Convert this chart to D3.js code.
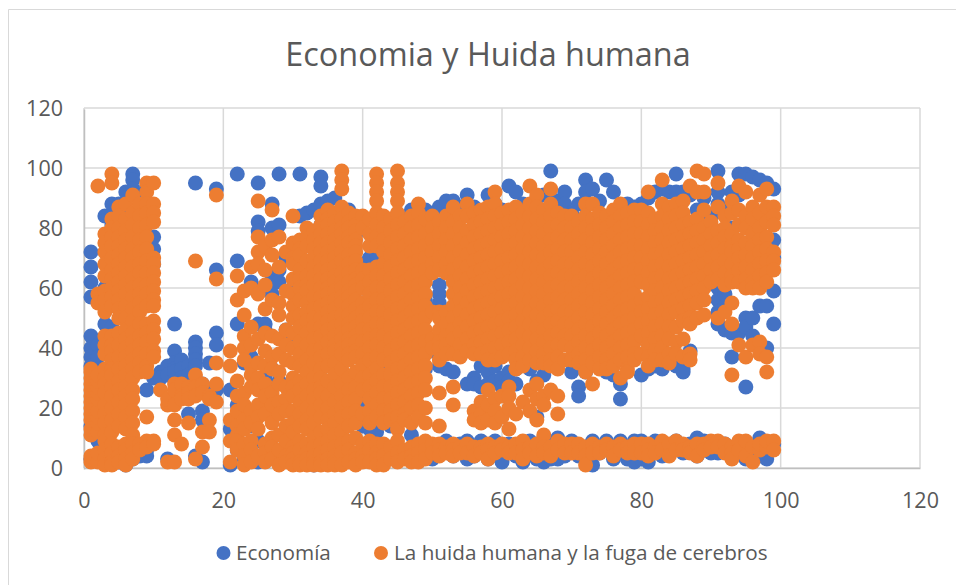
<!DOCTYPE html>
<html>
<head>
<meta charset="utf-8">
<script src="https://d3js.org/d3.v7.min.js"></script>
<style>
  body { margin: 0; background: #fff; }
  text { font-family: "Open Sans", sans-serif; fill: #595959; }
</style>
</head>
<body>
<div id="chart"></div>
<script>
const width = 956;
const height = 585;
const margin = { top: 108, left: 84, plotW: 836, plotH: 360 };

const chartTitle = "Economia y Huida humana";
const seriesNames = ["Economía", "La huida humana y la fuga de cerebros"];
const seriesColors = ["#4472c4", "#ed7d31"];
const xTicks = [0, 20, 40, 60, 80, 100, 120];
const yTicks = [0, 20, 40, 60, 80, 100, 120];

// [x, [y, y, ...]]
const economiaColumns = [
  [1, [72,67,62,57,44,40,37,34,14,3]], [2, [41,37,33,9]], [3, [84,60,48,6]], [4, [88,84,81,67,47,4]],
  [5, [88,72,63,2]], [6, [92,86,5,1]], [7, [98,96,93,78,3]], [8, [90,86,77,4]], [9, [94,26,6,4]], [10, [77,73,68,30]],
  [11, [32,30]], [12, [3,34,31]], [13, [48,39,35,33,32]], [14, [36,33,30]], [15, [34,31,18]],
  [16, [95,42,40,38,36,34,4]], [17, [19,16,2,28]], [18, [35,26]], [19, [93,66,45,41,26]],
  [21, [26,13,1]], [22, [98,69,48,21,6]], [23, [3,35]], [24, [62,37,14]], [25, [95,82,79,48,9,2]], [26, [60,48,46,30,5]],
  [27, [88,80,64,62,58,33]], [28, [98,81,66,62,29,2]], [29, [70,46,10]], [30, [43,60,8]],
  [31, [98,84,64,3]], [32, [85,28,62,4]], [33, [86,35,1]], [34, [97,94,88,81,30]], [35, [89,66,4]],
  [36, [90,53,33,2]], [37, [72,44,13]], [38, [86,70]], [39, [78,62]], [40, [68,55,22,14]],
  [41, [70,50,13,3]], [42, [71,66,46,12]], [43, [62,33]], [44, [14,61]], [46, [58,83,32]], [47, [86,40,11]], [48, [85,49]],
  [49, [86,56,33,4]], [50, [85,80,39,3]], [51, [87,61,58,55,34]], [52, [89,33,9]], [53, [89,32,4]], [54, [87,8]],
  [55, [91,28,9,3]], [56, [87,30,28,4]], [57, [84,34,27,9]], [58, [91,32,28,3]], [59, [88,34,29,9]], [60, [86,30,27,2]],
  [61, [94,32,29,8]], [62, [92,33,28,4]], [63, [88,36,2]], [64, [86,33,9]], [65, [90,29,17,3]], [66, [91,31,10,2]],
  [67, [99,90,3]], [68, [89,10,3]], [69, [92,88,4]], [70, [85,32,9]], [71, [88,27,24,4]], [72, [96,92,32,7]],
  [73, [93,9,1]], [74, [89,5]], [75, [96,32,9]], [76, [92,31,3]], [77, [85,28,23,9]], [78, [88,3,6]], [79, [87,9,2]],
  [80, [88,31,9,3]], [81, [90,33,2]], [82, [92,34,9]], [83, [93,33,8,4]], [84, [92,36,5]], [85, [98,92,34,9]], [86, [92,33,32,5]],
  [87, [91,39,8]], [88, [86,10,4]], [89, [90,9,6]], [90, [84,8,5]], [91, [99,92,88,60,56,52,48,5]], [92, [86,58,54,46,8]],
  [93, [92,80,37,45,4]], [94, [98,91,45,6]], [95, [98,50,47,27,3]], [96, [97,50,44,6]], [97, [96,54,10,4]],
  [98, [95,54,40,3,8]], [99, [93,76,70,59,48,8]]
];

const huidaColumns = [
  [1, [2,3,4,11,13,16,18,20,22,24,26,28,30,32,33]], [2, [94,58,55,2,5,12,15,17,19,23,25,27,29,31]],
  [3, [78,75,72,68,64,59,56,52,44,41,38,33,30,28,25,21,18,15,11,9,6,3,1]],
  [4, [98,95,83,80,77,74,70,66,63,60,57,54,44,41,39,36,33,31,27,24,20,16,12,8,5,2,1]],
  [5, [87,84,80,77,74,71,68,65,62,59,56,53,50,45,41,37,33,29,26,22,18,14,7,4,2]],
  [6, [88,83,79,76,73,70,67,64,61,58,54,50,46,43,40,37,34,31,27,24,21,17,13,8,6,3,1]],
  [7, [91,85,81,77,73,70,67,63,60,57,53,49,45,42,39,36,33,30,26,23,19,15,11,8,5,3]],
  [8, [88,84,80,76,72,68,65,61,58,55,52,48,44,41,38,35,32,8,6]],
  [9, [95,92,88,85,81,77,73,69,65,61,58,54,48,45,42,38,34,32,17,9,7]],
  [10, [95,88,85,82,70,68,65,62,59,56,54,49,46,43,39,37,9,8]],
  [11, [26]], [12, [21,2,23]], [13, [28,26,21,16,11,2]], [14, [28,24,8,23]], [15, [27,25,15,23]],
  [16, [69,31,27,24,3]], [17, [28,25,12,7]], [18, [24,16,12,23]], [19, [91,63,35,28,22]],
  [21, [39,34,16,9,2]], [22, [64,56,29,24,19,14,11,9,6]], [23, [59,51,44,40,36,25,21,16,13,8,4,1]],
  [24, [67,60,47,41,34,31,27,19,15,9,6,2]], [25, [89,77,72,68,58,43,35,30,26,21,17,13,4]],
  [26, [74,66,61,53,45,39,34,28,24,18,8,5,2]], [27, [86,76,71,56,44,37,33,25,21,15,10,7,3]],
  [28, [77,67,55,51,43,38,32,28,22,18,11,6,1]], [29, [72,59,46,41,36,27,23,19,14,9,4,2]],
  [30, [84,75,70,68,63,58,54,50,45,40,35,30,27,24,19,15,12,7,5,3,1]],
  [31, [76,73,71,66,63,60,56,51,47,42,38,34,29,26,22,18,14,9,6,2,1]],
  [32, [80,77,74,69,64,61,59,55,52,49,45,41,36,32,28,24,20,16,13,8,5,3,1]],
  [33, [79,76,73,70,67,64,61,57,53,50,47,43,39,35,30,26,23,19,15,10,7,4,2,1]],
  [34, [84,81,78,75,72,69,66,63,60,57,54,50,47,44,40,37,33,30,27,25,21,17,12,8,5,2,1]],
  [35, [86,83,81,78,75,72,69,66,63,60,58,55,52,49,46,42,38,34,29,24,20,16,13,9,6,3,1]],
  [36, [85,82,79,76,73,70,67,64,62,59,56,53,50,47,44,41,39,35,31,27,22,18,15,11,7,4,2,1]],
  [37, [99,96,93,87,83,80,78,75,72,69,65,62,60,57,55,51,48,45,43,40,38,33,28,24,20,17,12,8,5,1]],
  [38, [85,82,80,77,75,71,68,65,62,59,57,54,51,48,46,43,41,38,36,30,26,22,18,14,9,6,2]],
  [39, [84,81,79,76,74,72,69,66,63,61,59,56,53,50,47,44,42,39,37,32,27,23,19,15,10,5,3,1]],
  [40, [84,80,66,63,60,55,52,49,46,42,38,34,30,26,18,8,4,2]],
  [41, [83,78,74,66,62,58,54,50,46,43,40,36,31,27,23,19,15,9,6,2]],
  [42, [98,95,92,89,85,81,77,74,67,64,60,56,52,48,44,41,37,33,29,25,21,17,8,5,3,1]],
  [43, [84,80,76,72,68,64,60,56,52,48,44,40,36,31,27,23,19,15,8,4,1]],
  [44, [83,79,75,71,67,63,59,55,51,47,43,39,35,31,27,23,19,16,7,3]],
  [45, [99,95,92,89,85,81,77,73,69,65,61,57,53,49,45,41,37,33,29,25,21,17,13,9,5,2]],
  [46, [82,78,74,70,66,62,58,54,50,46,42,38,34,30,26,22,18,16,6,3]],
  [47, [84,80,76,72,68,64,60,56,52,48,44,40,36,32,28,24,20,15,7,4,2]],
  [48, [88,85,81,77,73,69,65,61,57,53,49,45,41,37,33,29,25,21,17,8,5,2]],
  [49, [83,78,74,70,66,62,58,54,50,46,42,38,34,30,26,20,15,9,6,3]],
  [50, [84,80,76,72,68,65,52,43,40,8,5]],
  [51, [82,78,74,70,66,52,50,46,42,40,36,25,14,8,6,4]],
  [52, [84,80,76,72,68,65,52,48,44,41,38,7,5]],
  [53, [87,82,78,74,70,66,62,58,54,50,46,43,38,27,21,8,6,4]],
  [54, [84,80,76,72,68,64,60,56,52,48,45,41,37,7,5]],
  [55, [88,84,79,75,71,67,63,59,55,51,47,43,39,8,5]],
  [56, [85,81,77,73,69,65,61,57,53,49,45,41,38,19,16,7,4]],
  [57, [86,82,78,74,70,66,62,58,54,50,46,42,38,22,18,15,7,5]],
  [58, [87,83,79,75,71,67,63,59,55,51,47,43,39,36,26,21,16,8,6,3]],
  [59, [92,88,84,80,76,72,68,64,60,56,52,48,44,40,36,23,19,15,7,5]],
  [60, [85,81,77,73,69,65,61,57,53,49,45,41,37,24,17,8,6]],
  [61, [86,82,78,74,70,66,62,58,54,50,46,42,38,27,24,20,13,7,5]],
  [62, [87,83,79,75,71,67,63,59,55,51,47,43,39,36,33,18,8,5]],
  [63, [85,81,77,73,69,65,61,57,53,49,45,41,37,34,22,9,6,3]],
  [64, [94,88,84,80,76,72,68,64,60,56,52,48,44,40,36,26,19,7,5]],
  [65, [91,87,83,79,75,71,67,63,59,55,51,47,43,39,35,28,23,16,8,4]],
  [66, [86,82,78,74,70,66,62,58,54,50,46,42,38,35,24,21,11,7,5]],
  [67, [93,88,84,80,76,72,68,64,60,56,52,48,44,40,36,34,26,7,4]],
  [68, [85,81,77,73,69,65,61,57,53,49,45,41,37,33,24,18,9,6]],
  [69, [84,80,76,72,68,64,60,56,52,48,44,41,36,8,5]],
  [70, [84,80,76,72,68,64,60,56,52,48,44,40,36,8,5]],
  [71, [82,78,74,70,66,62,58,54,50,46,42,38,35,8,5]],
  [72, [88,84,80,76,72,68,64,60,56,52,48,44,40,36,32,7,4,1]],
  [73, [88,83,79,75,71,67,63,59,55,51,47,43,39,35,28,8,5]],
  [74, [85,81,77,73,69,65,61,57,53,49,45,41,37,33,7,5]],
  [75, [84,80,76,72,68,64,60,56,52,48,44,40,36,33,8,6]],
  [76, [86,82,78,74,70,66,62,58,54,50,46,42,38,34,7,4]],
  [77, [88,84,80,76,72,68,64,60,56,52,48,44,40,36,30,8,6]],
  [78, [85,81,77,73,69,65,61,57,53,49,45,41,37,33,32,7,5]],
  [79, [86,82,78,74,70,66,62,58,54,50,46,42,38,36,8,5]],
  [80, [86,82,78,74,70,66,62,56,52,48,44,38,8,5]],
  [81, [92,85,81,77,73,69,65,61,57,53,49,45,41,37,34,8,6,4]],
  [82, [83,79,75,71,67,63,59,55,51,47,43,39,36,7,5]],
  [83, [96,88,84,80,76,72,68,64,60,56,52,48,44,40,36,9,6]],
  [84, [87,83,79,75,71,67,63,59,55,51,47,43,38,35,8,4]],
  [85, [88,84,80,76,72,68,64,60,56,52,47,42,38,9,6]],
  [86, [89,85,81,77,73,69,65,61,57,53,49,43,37,8,6]],
  [87, [94,82,78,74,70,66,62,58,54,50,48,38,36,7,5]],
  [88, [99,92,83,79,75,71,67,63,59,55,50,8,4]],
  [89, [98,92,86,80,76,72,68,64,60,56,51,8,6]],
  [90, [82,78,74,70,66,62,9,7]],
  [91, [95,87,79,75,71,67,63,50,9,7]],
  [92, [84,80,77,73,69,65,61,52,8,5]],
  [93, [89,85,78,74,72,68,64,62,55,48,31,7,5,3]],
  [94, [94,86,81,76,73,70,66,62,41,9,6]],
  [95, [92,84,80,75,71,67,63,60,37,9,4]],
  [96, [87,83,78,74,70,66,62,60,41,7,2]],
  [97, [91,85,80,76,72,68,64,60,42,38,6,8]],
  [98, [93,87,82,77,73,69,65,62,37,32,7,9]],
  [99, [87,84,81,72,69,66,9,6]]
];

const flatten = columns => columns.flatMap(([x, ys]) => ys.map(y => ({ x, y })));

const svg = d3.select("#chart")
  .append("svg")
  .attr("width", width)
  .attr("height", height);

// chart area border
svg.append("path")
  .attr("d", "M956,9.5H8.5V585")
  .attr("fill", "none")
  .attr("stroke", "#d9d9d9");

svg.append("text")
  .attr("x", 488)
  .attr("y", 66)
  .attr("text-anchor", "middle")
  .attr("font-size", 32.4)
  .text(chartTitle);

const xScale = d3.scaleLinear().domain([0, 120]).range([margin.left, margin.left + margin.plotW]);
const yScale = d3.scaleLinear().domain([0, 120]).range([margin.top + margin.plotH, margin.top]);

const xAxis = d3.axisBottom(xScale).tickValues(xTicks).tickSize(0).tickPadding(25);
const yAxis = d3.axisLeft(yScale).tickValues(yTicks).tickSize(0).tickPadding(21);

// gridlines
svg.append("g").selectAll("line").data(xTicks).join("line")
  .attr("x1", d => xScale(d)).attr("x2", d => xScale(d))
  .attr("y1", yScale(0)).attr("y2", yScale(120))
  .attr("stroke", "#d9d9d9").attr("stroke-width", 1.5);
svg.append("g").selectAll("line").data(yTicks).join("line")
  .attr("x1", xScale(0)).attr("x2", xScale(120))
  .attr("y1", d => yScale(d)).attr("y2", d => yScale(d))
  .attr("stroke", "#d9d9d9").attr("stroke-width", 1.5);

svg.append("g")
  .attr("transform", `translate(0, ${yScale(0)})`)
  .call(xAxis)
  .call(g => g.select(".domain").attr("stroke", "#bfbfbf").attr("stroke-width", 1.5))
  .selectAll("text").attr("font-size", 21.5).style("font-family", '"Open Sans", sans-serif').attr("fill", "#595959");

svg.append("g")
  .attr("transform", `translate(${xScale(0)}, 1)`)
  .call(yAxis)
  .call(g => g.select(".domain").attr("stroke", "#bfbfbf").attr("stroke-width", 1.5))
  .selectAll("text").attr("font-size", 21.5).style("font-family", '"Open Sans", sans-serif').attr("fill", "#595959");

[economiaColumns, huidaColumns].forEach((columns, i) => {
  svg.append("g").selectAll("circle")
    .data(flatten(columns))
    .join("circle")
    .attr("cx", d => xScale(d.x))
    .attr("cy", d => yScale(d.y))
    .attr("r", 7.5)
    .attr("fill", seriesColors[i]);
});

// legend
const legendX = [223.5, 381];
const legendText = [236, 394];
seriesNames.forEach((name, i) => {
  svg.append("circle").attr("cx", legendX[i]).attr("cy", 553).attr("r", 7).attr("fill", seriesColors[i]);
  svg.append("text").attr("x", legendText[i]).attr("y", 560).attr("font-size", 20.7).text(name);
});
</script>
</body>
</html>
